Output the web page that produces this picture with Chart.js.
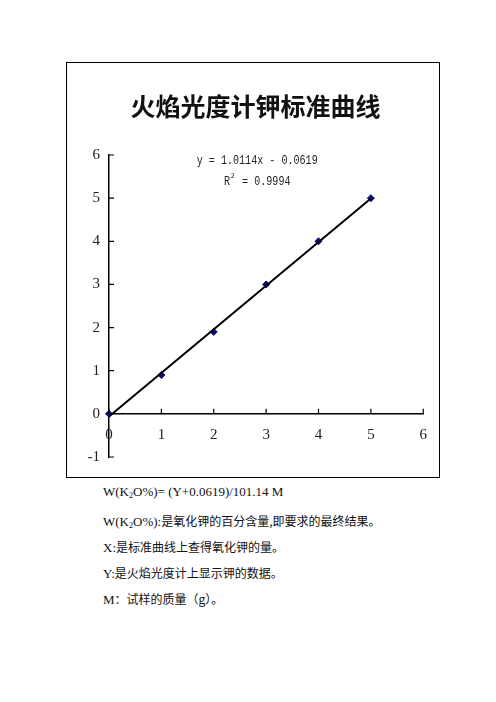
<!DOCTYPE html>
<html>
<head>
<meta charset="utf-8">
<script src="https://cdn.jsdelivr.net/npm/chart.js@4.4.0/dist/chart.umd.min.js"></script>
<style>
  body { margin: 0; background: #fff; width: 496px; height: 702px; position: relative; overflow: hidden; }
  #box { position: absolute; left: 66px; top: 62px; width: 372px; height: 414px; border: 1px solid #000; }
  .note { position: absolute; left: 103px; font-family: "Liberation Serif", "Noto Sans CJK SC", serif; font-size: 13px; color: #111; white-space: nowrap; line-height: 16px; }
  .note sub { font-size: 8px; vertical-align: -2px; }
  .cjk { font-family: "Noto Sans CJK SC", sans-serif; font-size: 12px; }
</style>
</head>
<body>
<div id="box"><canvas id="myChart"></canvas></div>

<div class="note" style="top:484px">W(K<sub>2</sub>O%)= (Y+0.0619)/101.14 M</div>
<div class="note" style="top:513px">W(K<sub>2</sub>O%):<span class="cjk">是氧化钾的百分含量,即要求的最终结果。</span></div>
<div class="note" style="top:539px">X:<span class="cjk">是标准曲线上查得氧化钾的量。</span></div>
<div class="note" style="top:565px">Y:<span class="cjk">是火焰光度计上显示钾的数据。</span></div>
<div class="note" style="top:591px">M<span class="cjk">：试样的质量（g）。</span></div>

<script>
'use strict';

// measured points
const xValues = [0, 1, 2, 3, 4, 5];
const yValues = [0, 0.9, 1.9, 3.0, 4.0, 5.0];

// linear trendline ends
const trendX = [0, 5];
const trendY = [-0.06, 4.99];

const xTicks = [0, 1, 2, 3, 4, 5, 6];
const yTicks = [-1, 0, 1, 2, 3, 4, 5, 6];

const ctx = document.getElementById('myChart');

// ticks pointing inward, like the old excel chart
const inwardTicks = {
  id: 'inwardTicks',
  afterDraw(chart) {
    const c = chart.ctx;
    const x = chart.scales.x, y = chart.scales.y;
    const x0 = x.getPixelForValue(0), y0 = y.getPixelForValue(0);
    c.save();
    c.strokeStyle = '#000';
    c.lineWidth = 1.2;
    c.beginPath();
    x.ticks.forEach(t => {
      const px = x.getPixelForValue(t.value);
      c.moveTo(px, y0); c.lineTo(px, y0 - 5);
    });
    y.ticks.forEach(t => {
      const py = y.getPixelForValue(t.value);
      c.moveTo(x0, py); c.lineTo(x0 + 5, py);
    });
    c.stroke();

    // equation label
    const cx = x.getPixelForValue(2.83);
    c.fillStyle = '#222';
    c.font = '12px "Liberation Mono", monospace';
    c.textAlign = 'center';
    c.textBaseline = 'middle';
    c.save();
    c.translate(cx, y.getPixelForValue(5.87));
    c.scale(0.84, 1);
    c.fillText('y = 1.0114x - 0.0619', 0, 0);
    c.restore();
    c.save();
    c.translate(cx, y.getPixelForValue(5.38));
    c.scale(0.84, 1);
    c.textAlign = 'left';
    const w = c.measureText('R  = 0.9994').width;
    c.fillText('R', -w / 2, 0);
    c.fillText(' = 0.9994', -w / 2 + c.measureText('R ').width, 0);
    c.font = '8px "Liberation Mono", monospace';
    c.fillText('2', -w / 2 + c.measureText('R').width * 1.5 + 1, -6);
    c.restore();
    c.restore();
  }
};

let chartObj = {
  type: 'scatter',
  data: {
    datasets: [{
      type: 'line',
      data: trendX.map((v, i) => ({ x: v, y: trendY[i] })),
      borderColor: '#000',
      borderWidth: 2,
      pointRadius: 0,
      clip: false
    },
    {
      data: xValues.map((v, i) => ({ x: v, y: yValues[i] })),
      pointStyle: 'rectRot',
      pointRadius: 3.5,
      backgroundColor: '#0a0a78',
      borderColor: '#0a0a78',
      clip: false
    }]
  },
  options: {
    responsive: true,
    maintainAspectRatio: false,
    animation: false,
    layout: { padding: { left: 20, right: 15, top: 20, bottom: 20 } },
    plugins: {
      legend: { display: false },
      tooltip: { enabled: false },
      title: {
        display: true,
        text: '火焰光度计钾标准曲线',
        color: '#111',
        font: { family: '"Noto Sans CJK SC", sans-serif', size: 25, weight: 'bold' },
        padding: { top: 8, bottom: 34 }
      }
    },
    scales: {
      x: {
        type: 'linear',
        position: { y: 0 },
        min: 0,
        max: 6,
        afterBuildTicks: s => { s.ticks = xTicks.map(v => ({ value: v })); },
        grid: { display: true, drawOnChartArea: false, drawTicks: false },
        border: { display: true, color: '#000', width: 1.5 },
        ticks: { color: '#222', padding: 12, font: { family: '"Liberation Serif", serif', size: 15 } }
      },
      y: {
        type: 'linear',
        position: 'left',
        min: -1,
        max: 6,
        afterBuildTicks: s => { s.ticks = yTicks.map(v => ({ value: v })); },
        afterFit: s => { s.width = 22; },
        grid: { display: true, drawOnChartArea: false, drawTicks: false },
        border: { display: true, color: '#000', width: 1.5 },
        ticks: { color: '#222', padding: 9, font: { family: '"Liberation Serif", serif', size: 15 } }
      }
    }
  },
  plugins: [inwardTicks]
};

new Chart(ctx, chartObj);
</script>
</body>
</html>
